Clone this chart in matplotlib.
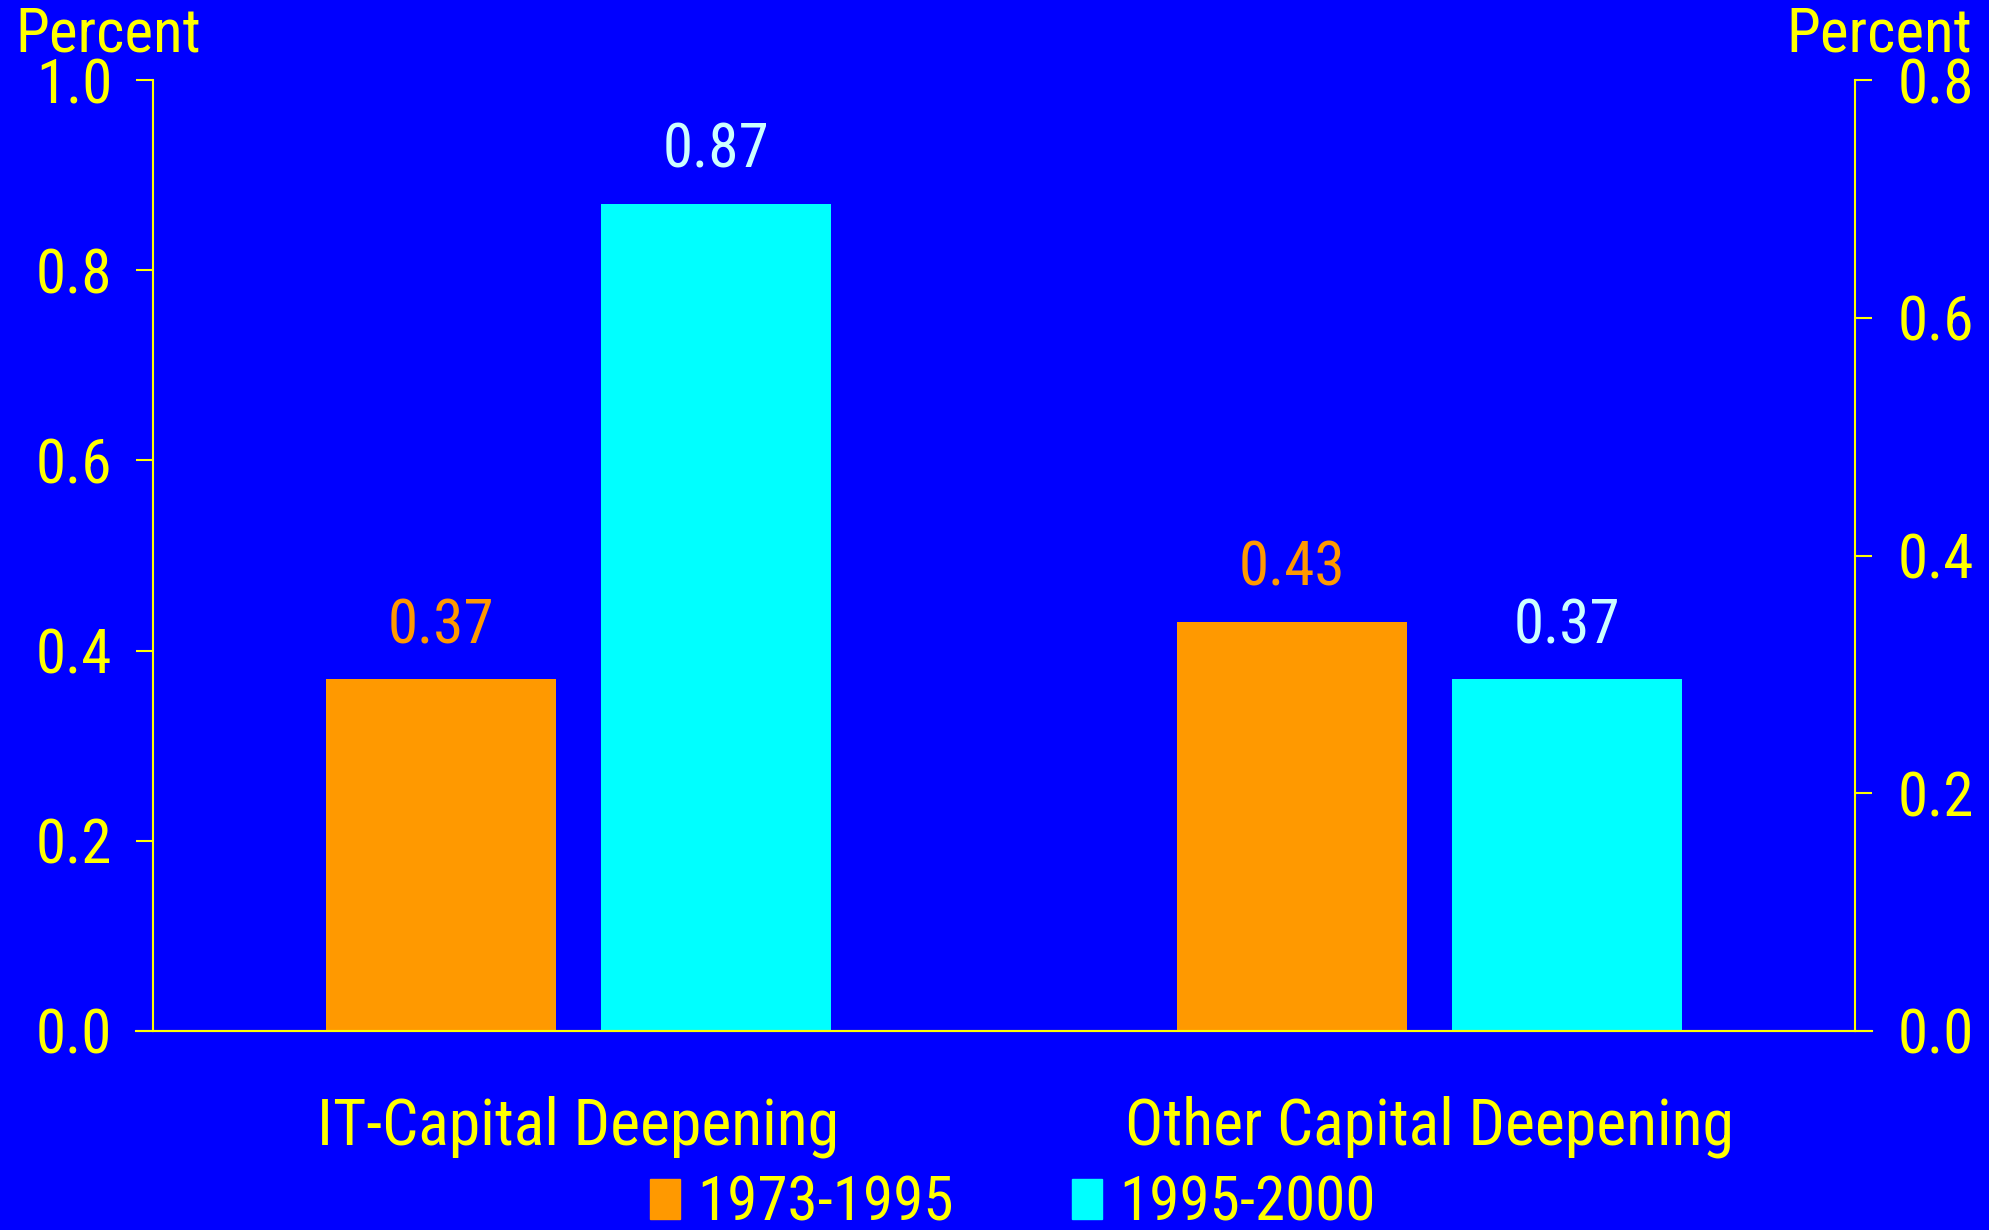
import numpy as np
import matplotlib
matplotlib.use("Agg")
import matplotlib.pyplot as plt
from matplotlib.patches import Patch
from matplotlib import font_manager as fm

# データ
categories = ["IT-Capital Deepening", "Other Capital Deepening"]
periods = ["1973-1995", "1995-2000"]
vals_early = [0.37, 0.43]
vals_late = [0.87, 0.37]
left_ticks = [0.0, 0.2, 0.4, 0.6, 0.8, 1.0]
right_ticks = [0.0, 0.2, 0.4, 0.6, 0.8]

bg = "#0000FF"
yellow = "#FFFF00"
orange = "#FF9900"
cyan = "#00FFFF"
label_cyan = "#CCFFFF"

# 細めのフォントがあれば使う
fp = None
wanted = ["Liberation Sans Narrow", "Arial Narrow", "Roboto Condensed", "Open Sans Condensed",
          "Noto Sans Condensed", "DejaVu Sans Condensed"]
for name in wanted:
    for f in fm.fontManager.ttflist:
        if f.name == name and f.weight in (400, "normal", "regular") and f.style == "normal":
            fp = f.fname
            break
    if fp:
        break
if fp is None:
    for f in fm.fontManager.ttflist:
        if f.name in ("Liberation Sans", "DejaVu Sans", "Noto Sans", "Roboto") and \
                str(f.stretch) in ("condensed", "semi-condensed", "extra-condensed") and \
                f.style == "normal" and f.weight in (400, "normal", "regular"):
            fp = f.fname
            break
if fp is not None:
    fm.fontManager.addfont(fp)
    fam = fm.FontProperties(fname=fp).get_name()
    plt.rcParams['font.family'] = [fam, 'Liberation Sans', 'DejaVu Sans']
    narrow = True
else:
    plt.rcParams['font.family'] = ['Liberation Sans', 'DejaVu Sans']
    narrow = False

fs = 44
leg_fs = 44 if narrow else 38

fig = plt.figure(figsize=(19.9, 12.3), dpi=100, facecolor=bg)
ax = fig.add_axes([153/1990, 199/1230, (1855-153)/1990, (1031-80)/1230])
ax.set_facecolor(bg)

x = np.arange(len(categories))
w = 0.27
off = 0.162
b1 = ax.bar(x - off, vals_early, w, color=orange)
b2 = ax.bar(x + off, vals_late, w, color=cyan)

for rect, v in zip(b1, vals_early):
    ax.annotate(f"{v:.2f}", (rect.get_x() + rect.get_width()/2, v), xytext=(0, 26),
                textcoords="offset points", ha="center", va="baseline", fontsize=fs, color=orange)
for rect, v in zip(b2, vals_late):
    ax.annotate(f"{v:.2f}", (rect.get_x() + rect.get_width()/2, v), xytext=(0, 26),
                textcoords="offset points", ha="center", va="baseline", fontsize=fs, color=label_cyan)

ax.set_xlim(-0.5, 1.5)
ax.set_ylim(0, 1.0)
ax.set_yticks(left_ticks)
ax.set_yticklabels([f"{t:.1f}" for t in left_ticks])
ax.set_xticks([])
ax.tick_params(axis="y", colors=yellow, labelsize=fs, length=12.2, width=1.5, pad=17)

ax2 = ax.twinx()
ax2.set_ylim(0, 0.8)
ax2.set_yticks(right_ticks)
ax2.set_yticklabels([f"{t:.1f}" for t in right_ticks])
ax2.tick_params(axis="y", colors=yellow, labelsize=fs, length=12.2, width=1.5, pad=18.5)

for a in (ax, ax2):
    a.spines["top"].set_visible(False)
    for s in ("left", "right", "bottom"):
        a.spines[s].set_color(yellow)
        a.spines[s].set_linewidth(1.5)
ax.spines["right"].set_visible(False)
ax2.spines["left"].set_visible(False)
ax2.spines["bottom"].set_visible(False)
# 下の軸線を目盛りの端まで延ばす
ax.plot([-0.5 - 17/851, 1.5 + 17/851], [0, 0], color=yellow, lw=1.5, clip_on=False)

for xi, c in zip(x, categories):
    ax.text(xi, -0.119, c, ha="center", va="baseline", fontsize=46, color=yellow)

fig.text(15/1990, 1 - 52/1230, "Percent", ha="left", va="baseline", fontsize=fs, color=yellow)
fig.text(1972/1990, 1 - 52/1230, "Percent", ha="right", va="baseline", fontsize=fs, color=yellow)

handles = [Patch(color=orange, label=periods[0]), Patch(color=cyan, label=periods[1])]
fig.legend(handles=handles, loc="lower center", bbox_to_anchor=(1013/1990, -0.027), ncol=2,
           frameon=False, fontsize=leg_fs, labelcolor=yellow, handlelength=0.49,
           handleheight=0.62, handletextpad=0.28, columnspacing=1.93, borderpad=0)

fig.savefig("out.png", dpi=100, facecolor=bg)
